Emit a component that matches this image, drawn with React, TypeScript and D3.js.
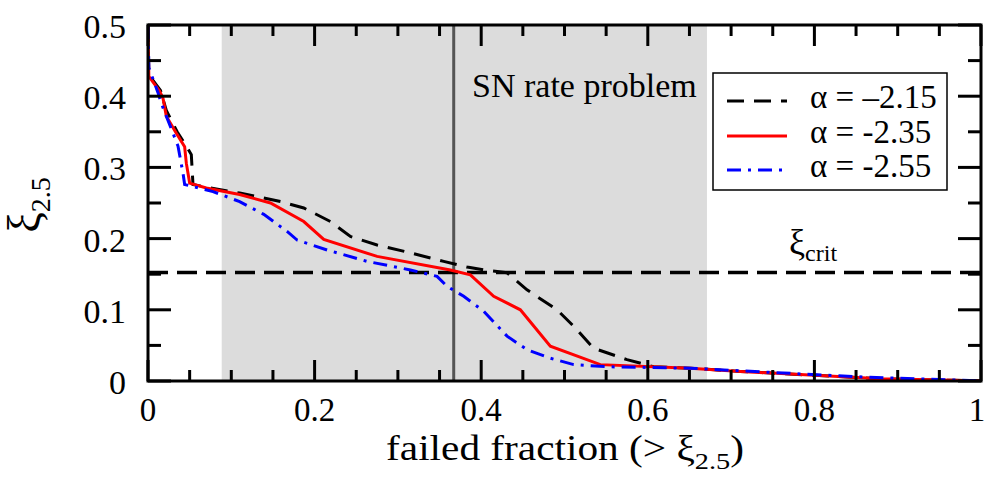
import React from "react";
import * as d3 from "d3";

// failed fraction vs. compactness threshold for three IMF slopes
const fracA215 = [0, 0.001, 0.015, 0.022, 0.035, 0.046, 0.052, 0.054, 0.075, 0.11, 0.159, 0.187, 0.219, 0.243, 0.275, 0.315, 0.355, 0.383, 0.403, 0.431, 0.455, 0.491, 0.511, 0.535, 0.575, 0.607, 0.651, 0.711, 0.8, 0.88, 0.967, 1];
const xiA215 = [0.5, 0.43, 0.408, 0.38, 0.35, 0.33, 0.318, 0.276, 0.271, 0.264, 0.252, 0.243, 0.224, 0.203, 0.191, 0.18, 0.168, 0.16, 0.156, 0.152, 0.128, 0.1, 0.077, 0.046, 0.03, 0.02, 0.018, 0.0135, 0.008, 0.003, 0.001, 0];

const fracA235 = [0, 0.001, 0.014, 0.018, 0.022, 0.034, 0.044, 0.046, 0.05, 0.07, 0.11, 0.147, 0.187, 0.211, 0.275, 0.363, 0.387, 0.415, 0.447, 0.483, 0.543, 0.651, 0.711, 0.8, 0.88, 0.967, 1];
const xiA235 = [0.5, 0.428, 0.407, 0.397, 0.372, 0.348, 0.329, 0.306, 0.278, 0.271, 0.262, 0.25, 0.224, 0.199, 0.175, 0.156, 0.149, 0.119, 0.1, 0.049, 0.023, 0.018, 0.0135, 0.008, 0.003, 0.001, 0];

const fracA255 = [0, 0.001, 0.012, 0.016, 0.022, 0.036, 0.042, 0.044, 0.078, 0.11, 0.139, 0.167, 0.179, 0.215, 0.263, 0.315, 0.347, 0.359, 0.379, 0.403, 0.431, 0.455, 0.483, 0.511, 0.551, 0.651, 0.75, 0.85, 0.95, 1];
const xiA255 = [0.5, 0.44, 0.405, 0.39, 0.372, 0.33, 0.292, 0.276, 0.266, 0.252, 0.234, 0.21, 0.198, 0.184, 0.168, 0.156, 0.147, 0.133, 0.119, 0.098, 0.063, 0.044, 0.032, 0.023, 0.02, 0.018, 0.012, 0.006, 0.002, 0];

const seriesLabels = ["α = –2.15", "α = -2.35", "α = -2.55"];
const xTickValues = [0, 0.2, 0.4, 0.6, 0.8, 1];
const xTickLabels = ["0", "0.2", "0.4", "0.6", "0.8", "1"];
const yTickValues = [0, 0.1, 0.2, 0.3, 0.4, 0.5];
const yTickLabels = ["0", "0.1", "0.2", "0.3", "0.4", "0.5"];

const snBand = [0.0885, 0.671];
const fracCut = 0.367;
const xiCrit = 0.1525;

const W = 986;
const H = 484;
const L = 148, R = 981, T = 25, B = 381;
const FONT = "'Liberation Serif', 'Times New Roman', serif";

export default function App() {
  const x = d3.scaleLinear().domain([0, 1]).range([L, R]);
  const y = d3.scaleLinear().domain([0, 0.5]).range([B, T]);

  const line = d3
    .line<[number, number]>()
    .x((d) => x(d[0]))
    .y((d) => y(d[1]));

  const zip = (a: number[], b: number[]) => a.map((v, i) => [v, b[i]] as [number, number]);

  const series = [
    { pts: zip(fracA215, xiA215), color: "#000", dash: "17 10", label: seriesLabels[0] },
    { pts: zip(fracA235, xiA235), color: "#ff0000", dash: "", label: seriesLabels[1] },
    { pts: zip(fracA255, xiA255), color: "#0000ff", dash: "14 7 3 7", label: seriesLabels[2] },
  ];

  const xMinor = d3.range(0, 1.0001, 0.05);
  const yMinor = d3.range(0, 0.5001, 0.05);
  const isMajorX = (v: number) => Math.abs(v * 5 - Math.round(v * 5)) < 1e-6;
  const isMajorY = (v: number) => Math.abs(v * 10 - Math.round(v * 10)) < 1e-6;

  const legendRows = [108, 143, 177];

  return (
    <svg
      width={W}
      height={H}
      style={{ position: "absolute", left: 0, top: 0, background: "#fff" }}
      fontFamily={FONT}
    >
      <defs>
        <clipPath id="plotClip">
          <rect x={L} y={T} width={R - L} height={B - T} />
        </clipPath>
      </defs>

      {/* SN rate problem band */}
      <rect
        x={x(snBand[0])}
        y={T}
        width={x(snBand[1]) - x(snBand[0])}
        height={B - T}
        fill="#dcdcdc"
      />

      <line x1={x(fracCut)} x2={x(fracCut)} y1={T} y2={B} stroke="#555" strokeWidth={3} />
      <line
        x1={L}
        x2={R}
        y1={y(xiCrit)}
        y2={y(xiCrit)}
        stroke="#000"
        strokeWidth={3.5}
        strokeDasharray="20 9"
      />

      <g clipPath="url(#plotClip)">
        {series.map((s, i) => (
          <path
            key={i}
            d={line(s.pts) || ""}
            fill="none"
            stroke={s.color}
            strokeWidth={3}
            strokeDasharray={s.dash || undefined}
          />
        ))}
      </g>

      {/* frame */}
      <rect x={L} y={T} width={R - L} height={B - T} fill="none" stroke="#000" strokeWidth={3} />

      {/* x ticks, bottom and top */}
      {xMinor.map((v, i) => {
        const len = isMajorX(v) ? 21 : 11;
        return (
          <g key={"xt" + i} stroke="#000" strokeWidth={3}>
            <line x1={x(v)} x2={x(v)} y1={B} y2={B - len} />
            <line x1={x(v)} x2={x(v)} y1={T} y2={T + len} />
          </g>
        );
      })}
      {/* y ticks, left and right */}
      {yMinor.map((v, i) => {
        const len = isMajorY(v) ? 23 : 13;
        return (
          <g key={"yt" + i} stroke="#000" strokeWidth={3}>
            <line x1={L} x2={L + len} y1={y(v)} y2={y(v)} />
            <line x1={R} x2={R - len} y1={y(v)} y2={y(v)} />
          </g>
        );
      })}

      {xTickValues.map((v, i) => (
        <text
          key={"xl" + i}
          x={Math.min(x(v), W - 9)}
          y={421}
          fontSize={33}
          textAnchor="middle"
          fill="#000"
        >
          {xTickLabels[i]}
        </text>
      ))}
      {yTickValues.map((v, i) => (
        <text key={"yl" + i} x={126} y={y(v) + 13} fontSize={34} textAnchor="end" fill="#000">
          {yTickLabels[i]}
        </text>
      ))}

      {/* axis titles */}
      <text
        transform="translate(565,460) scale(1.18,1)"
        fontSize={35}
        textAnchor="middle"
        fill="#000"
      >
        failed fraction (&gt; ξ
        <tspan fontSize={24} dy={9}>2.5</tspan>
        <tspan dy={-9}>)</tspan>
      </text>
      <text transform="translate(40,205) rotate(-90)" fontSize={46} textAnchor="middle" fill="#000">
        ξ<tspan fontSize={28} dy={10}>2.5</tspan>
      </text>

      {/* annotations */}
      <text x={472} y={97} fontSize={34} fill="#000">SN rate problem</text>
      <text x={789} y={254} fontSize={36} fill="#000">
        ξ<tspan fontSize={24} dy={7}>crit</tspan>
      </text>

      {/* legend */}
      <rect x={713} y={73} width={234} height={117} fill="#fff" stroke="#000" strokeWidth={1.5} />
      {series.map((s, i) => (
        <g key={"lg" + i}>
          <line
            x1={727}
            x2={787}
            y1={legendRows[i] - 7}
            y2={legendRows[i] - 7}
            stroke={s.color}
            strokeWidth={3}
            strokeDasharray={s.dash || undefined}
          />
          <text x={810} y={legendRows[i]} fontSize={33} fill="#000">
            {s.label}
          </text>
        </g>
      ))}
    </svg>
  );
}
